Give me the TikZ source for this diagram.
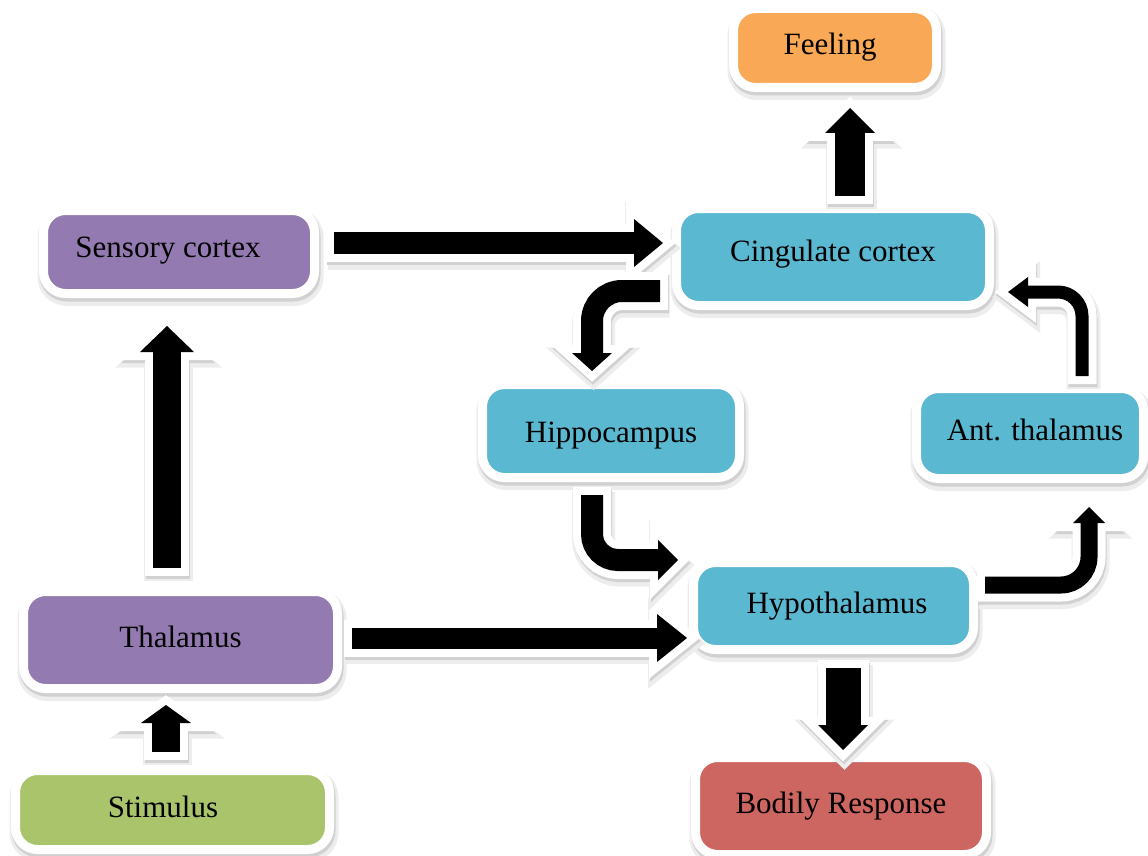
\documentclass[tikz,border=0pt]{standalone}
\usepackage{fontspec}
\setmainfont{Liberation Serif}
\usetikzlibrary{calc}

\definecolor{cPurple}{HTML}{937AB1}
\definecolor{cBlue}{HTML}{5BB8D1}
\definecolor{cOrange}{HTML}{F9A856}
\definecolor{cGreen}{HTML}{A9C46B}
\definecolor{cRed}{HTML}{CD6660}
\definecolor{shadowA}{gray}{0.93}
\definecolor{shadowB}{gray}{0.82}

% white outline width of the block arrows
\def\bw{8}

% block arrow: #1 shaft width, #2 half head width, #3 shaft path (tail to head base),
% #4 head base coordinate, #5 tip coordinate
\newcommand\barrow[5]{%
  \pgfmathsetmacro\wout{#1+2*\bw}%
  \pgfmathsetmacro\wsha{#1+2*\bw+5}%
  \pgfmathsetmacro\hsha{2*\bw+5}%
  \pgfmathsetmacro\hout{2*\bw}%
  \begin{scope}[transform canvas={shift={(1.5pt,-5pt)}}]
    \draw[shadowA, line width=\wsha pt, shorten <=-\bw pt] #3;
    \filldraw[shadowA, line width=\hsha pt, line join=miter]
      ($(#4)!#2pt!90:(#5)$) -- (#5) -- ($(#4)!#2pt!-90:(#5)$) -- cycle;
  \end{scope}
  \begin{scope}[transform canvas={shift={(1pt,-3pt)}}]
    \draw[shadowB, line width=\wout pt, shorten <=-\bw pt] #3;
    \filldraw[shadowB, line width=\hout pt, line join=miter]
      ($(#4)!#2pt!90:(#5)$) -- (#5) -- ($(#4)!#2pt!-90:(#5)$) -- cycle;
  \end{scope}
  \draw[white, line width=\wout pt, shorten <=-\bw pt] #3;
  \filldraw[white, line width=\hout pt, line join=miter]
    ($(#4)!#2pt!90:(#5)$) -- (#5) -- ($(#4)!#2pt!-90:(#5)$) -- cycle;
  \draw[black, line width=#1pt] #3;
  \fill[black] ($(#4)!#2pt!90:(#5)$) -- (#5) -- ($(#4)!#2pt!-90:(#5)$) -- cycle;
}

\tikzset{
  box/.style={rounded corners=22pt, draw=white, line width=9pt, inner sep=0pt,
    font=\fontsize{31}{36}\selectfont, text height=21pt, text depth=7pt,
    preaction={draw=shadowA, line width=15pt, transform canvas={shift={(1.5pt,-5pt)}}},
    preaction={draw=shadowB, line width=10pt, transform canvas={shift={(1pt,-3pt)}}}},
}

\begin{document}
\begin{tikzpicture}[x=1pt, y=-1pt]
  \fill[white] (0,0) rectangle (1148,856);
  \useasboundingbox (0,0) rectangle (1148,856);

  % boxes (fill size + outline width)
  \node[box, fill=cOrange, minimum width=203pt, minimum height=79pt] (feel) at (835,48) {\hspace*{-10pt}Feeling};
  \node[box, fill=cPurple, minimum width=271pt, minimum height=83pt] (sens) at (179,252) {\raisebox{2pt}{\hspace*{-22pt}Sensory cortex}};
  \node[box, fill=cBlue, minimum width=313pt, minimum height=97pt] (cing) at (833,257) {\raisebox{3pt}{Cingulate cortex}};
  \node[box, fill=cBlue, minimum width=257pt, minimum height=93pt] (hipp) at (611,431) {\raisebox{-4pt}{Hippocampus}};
  \node[box, fill=cBlue, minimum width=227pt, minimum height=90pt] (ant) at (1030,433.5) {Ant. thalamus\hspace*{-10pt}};
  \node[box, fill=cBlue, minimum width=280pt, minimum height=87pt] (hypo) at (833.5,606) {Hypothalamus\hspace*{-7pt}};
  \node[box, fill=cRed, minimum width=291pt, minimum height=97pt] (body) at (841,806) {Bodily Response};
  \node[box, fill=cPurple, minimum width=314pt, minimum height=97pt] (thal) at (180.5,640) {Thalamus};
  \node[box, fill=cGreen, minimum width=314pt, minimum height=79pt] (stim) at (172.5,810) {\hspace*{-19pt}Stimulus};

  % arrow end points
  \coordinate (a-t) at (850,196);  \coordinate (a-b) at (850,133);  \coordinate (a-p) at (850,108);
  \coordinate (b-t) at (334,243);  \coordinate (b-b) at (634,243);  \coordinate (b-p) at (663,243);
  \coordinate (c-t) at (352,638);  \coordinate (c-b) at (657,638);  \coordinate (c-p) at (687,638);
  \coordinate (d-t) at (167,568);  \coordinate (d-b) at (167,352);  \coordinate (d-p) at (167,326);
  \coordinate (e-t) at (166,752);  \coordinate (e-b) at (166,723);  \coordinate (e-p) at (166,705);
  \coordinate (f-t) at (843,668);  \coordinate (f-b) at (843,725);  \coordinate (f-p) at (843,750);
  \coordinate (g-t) at (660,291);  \coordinate (g-b) at (592,353);  \coordinate (g-p) at (592,371);
  \coordinate (h-t) at (592,495);  \coordinate (h-b) at (658,560);  \coordinate (h-p) at (678,560);
  \coordinate (i-t) at (985,585);  \coordinate (i-b) at (1089,523); \coordinate (i-p) at (1089,507);
  \coordinate (j-t) at (1082,376); \coordinate (j-b) at (1028,292); \coordinate (j-p) at (1008,292);

  % cingulate cortex -> feeling
  \barrow{30}{25}{(a-t) -- (a-b)}{a-b}{a-p}
  % sensory cortex -> cingulate cortex
  \barrow{22}{24}{(b-t) -- (b-b)}{b-b}{b-p}
  % thalamus -> hypothalamus
  \barrow{21}{24}{(c-t) -- (c-b)}{c-b}{c-p}
  % thalamus -> sensory cortex
  \barrow{28}{27}{(d-t) -- (d-b)}{d-b}{d-p}
  % stimulus -> thalamus
  \barrow{28}{25}{(e-t) -- (e-b)}{e-b}{e-p}
  % hypothalamus -> bodily response
  \barrow{35}{25}{(f-t) -- (f-b)}{f-b}{f-p}
  % cingulate cortex -> hippocampus
  \barrow{22}{20}{[rounded corners=30pt] (g-t) -| (g-b)}{g-b}{g-p}
  % hippocampus -> hypothalamus
  \barrow{22}{20}{[rounded corners=26pt] (h-t) |- (h-b)}{h-b}{h-p}
  % hypothalamus -> ant. thalamus
  \barrow{17}{16}{[rounded corners=28pt] (i-t) -| (i-b)}{i-b}{i-p}
  % ant. thalamus -> cingulate cortex
  \barrow{13}{15}{[rounded corners=24pt] (j-t) |- (j-b)}{j-b}{j-p}
\end{tikzpicture}
\end{document}
